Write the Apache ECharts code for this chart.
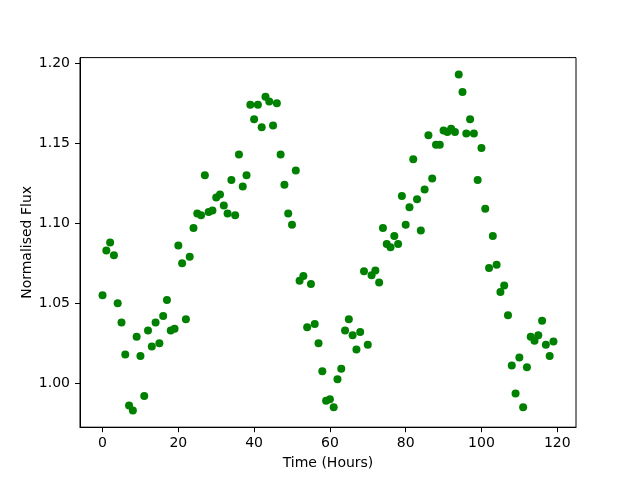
<!DOCTYPE html>
<html>
<head>
<meta charset="utf-8">
<script src="https://cdn.jsdelivr.net/npm/echarts@6/dist/echarts.min.js"></script>
<style>html,body{margin:0;padding:0;background:#fff}#c{width:640px;height:480px}</style>
</head>
<body>
<div id="c"></div>
<script>
var timeHours = [
  0, 1, 2, 3, 4, 5, 6, 7, 8, 9,
  10, 11, 12, 13, 14, 15, 16, 17, 18, 19,
  20, 21, 22, 23, 24, 25, 26, 27, 28, 29,
  30, 31, 32, 33, 34, 35, 36, 37, 38, 39,
  40, 41, 42, 43, 44, 45, 46, 47, 48, 49,
  50, 51, 52, 53, 54, 55, 56, 57, 58, 59,
  60, 61, 62, 63, 64, 65, 66, 67, 68, 69,
  70, 71, 72, 73, 74, 75, 76, 77, 78, 79,
  80, 81, 82, 83, 84, 85, 86, 87, 88, 89,
  90, 91, 92, 93, 94, 95, 96, 97, 98, 99,
  100, 101, 102, 103, 104, 105, 106, 107, 108, 109,
  110, 111, 112, 113, 114, 115, 116, 117, 118, 119
];
var normalisedFlux = [
  1.055, 1.083, 1.088, 1.080, 1.050, 1.038, 1.018, 0.986, 0.983, 1.029,
  1.017, 0.992, 1.033, 1.023, 1.038, 1.025, 1.042, 1.052, 1.033, 1.034,
  1.086, 1.075, 1.040, 1.079, 1.097, 1.106, 1.105, 1.130, 1.107, 1.108,
  1.116, 1.118, 1.111, 1.106, 1.127, 1.105, 1.143, 1.123, 1.130, 1.174,
  1.165, 1.174, 1.160, 1.179, 1.176, 1.161, 1.175, 1.143, 1.124, 1.106,
  1.099, 1.133, 1.064, 1.067, 1.035, 1.062, 1.037, 1.025, 1.0075, 0.989,
  0.990, 0.985, 1.0025, 1.009, 1.033, 1.040, 1.030, 1.021, 1.032, 1.070,
  1.024, 1.0675, 1.0705, 1.063, 1.097, 1.087, 1.085, 1.092, 1.087, 1.117,
  1.099, 1.110, 1.140, 1.115, 1.0955, 1.121, 1.155, 1.128, 1.149, 1.149,
  1.158, 1.157, 1.159, 1.157, 1.193, 1.182, 1.156, 1.165, 1.156, 1.127,
  1.147, 1.109, 1.072, 1.092, 1.074, 1.057, 1.061, 1.0425, 1.011, 0.9935,
  1.016, 0.985, 1.010, 1.029, 1.0265, 1.030, 1.039, 1.024, 1.017, 1.026
];
var xTicks = [0, 20, 40, 60, 80, 100, 120];
var yTicks = [1.00, 1.05, 1.10, 1.15, 1.20];

var points = timeHours.map(function (t, i) { return [t, normalisedFlux[i]]; });

var font = 'DejaVu Sans';
var chart = echarts.init(document.getElementById('c'), null, {renderer: 'canvas'});
chart.setOption({
  animation: false,
  backgroundColor: '#fff',
  grid: {
    left: 80, right: 64, top: 57.6, bottom: 52.8,
    show: true, borderColor: '#000', borderWidth: 1, backgroundColor: 'transparent'
  },
  xAxis: {
    type: 'value',
    min: -5.95, max: 124.95,
    name: 'Time (Hours)',
    nameLocation: 'middle',
    nameGap: 29,
    nameTextStyle: {fontFamily: font, fontSize: 14, color: '#000'},
    axisLine: {show: true, onZero: false, lineStyle: {color: '#000', width: 1}},
    axisTick: {show: true, inside: false, length: 5, lineStyle: {color: '#000'}, customValues: xTicks},
    axisLabel: {show: true, margin: 9, fontFamily: font, fontSize: 14, color: '#000', customValues: xTicks},
    splitLine: {show: false}
  },
  yAxis: {
    type: 'value',
    min: 0.9725, max: 1.2035,
    name: 'Normalised Flux',
    nameLocation: 'middle',
    nameGap: 46,
    nameMoveOverlap: false,
    nameRotate: 90,
    nameTextStyle: {fontFamily: font, fontSize: 14, color: '#000'},
    axisLine: {show: true, onZero: false, lineStyle: {color: '#000', width: 1}},
    axisTick: {show: true, inside: false, length: 5, lineStyle: {color: '#000'}, customValues: yTicks},
    axisLabel: {show: true, margin: 10, fontFamily: font, fontSize: 14, color: '#000', customValues: yTicks,
      formatter: function (v) { return v.toFixed(2); }},
    splitLine: {show: false}
  },
  series: [{
    type: 'scatter',
    data: points,
    symbol: 'circle',
    symbolSize: 8,
    itemStyle: {color: '#008000', opacity: 1},
    silent: true
  }]
});
</script>
</body>
</html>
